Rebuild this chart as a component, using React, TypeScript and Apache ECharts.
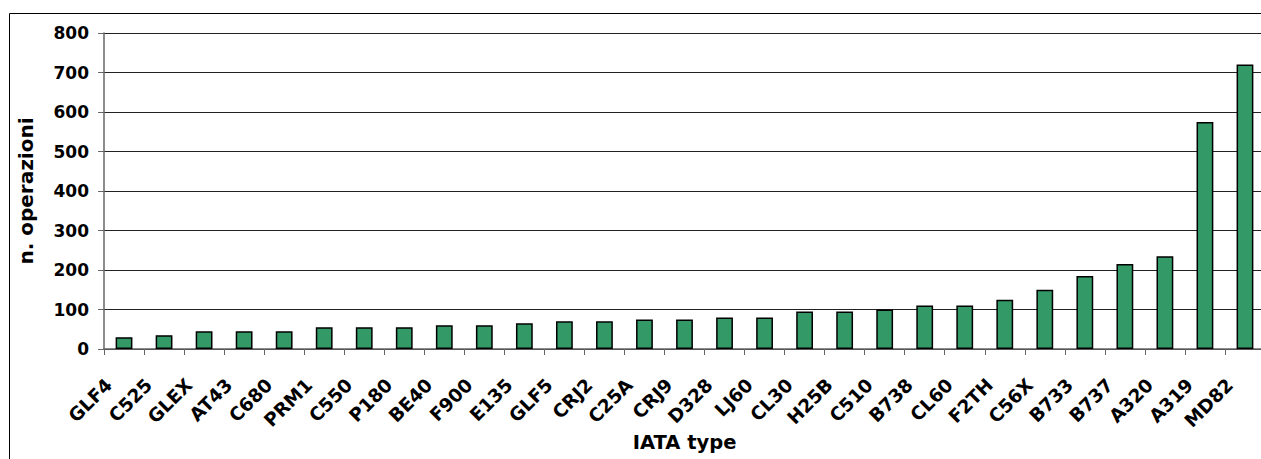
import React, { useEffect, useRef } from "react";
import * as echarts from "echarts";

const categories = ["GLF4","C525","GLEX","AT43","C680","PRM1","C550","P180","BE40","F900","E135","GLF5","CRJ2","C25A","CRJ9","D328","LJ60","CL30","H25B","C510","B738","CL60","F2TH","C56X","B733","B737","A320","A319","MD82"];
const operations = [30,35,45,45,45,55,55,55,60,60,65,70,70,75,75,80,80,95,95,100,110,110,125,150,185,215,235,575,720];
const yTicks = { min: 0, max: 800, interval: 100 };

export default function App() {
  const ref = useRef<HTMLDivElement>(null);
  useEffect(() => {
    if (!ref.current) return;
    const chart = echarts.init(ref.current, null, { renderer: "svg" });
    const font = "'DejaVu Sans', Arial, sans-serif";
    chart.setOption({
      animation: false,
      backgroundColor: "#ffffff",
      graphic: [
        {
          type: "rect",
          shape: { x: 9.5, y: 13.5, width: 1400, height: 600 },
          style: { fill: "none", stroke: "#000", lineWidth: 1 },
          silent: true,
        },
      ],
      grid: { left: 104, top: 33, bottom: 110, right: -4, containLabel: false, outerBoundsMode: "none" },
      xAxis: {
        type: "category",
        data: categories,
        name: "IATA type",
        nameLocation: "middle",
        nameGap: 83,
        nameMoveOverlap: false,
        nameTextStyle: { fontFamily: font, fontWeight: "bold", fontSize: 19.5, color: "#000" },
        axisLine: { lineStyle: { color: "#666", width: 1.5 } },
        axisTick: { show: true, length: 6, alignWithLabel: false, lineStyle: { color: "#666" } },
        axisLabel: {
          rotate: 45,
          margin: 31,
          interval: 0,
          verticalAlign: "bottom",
          padding: [0, 12, 0, 0],
          fontFamily: font,
          fontWeight: "bold",
          fontSize: 18.5,
          color: "#000",
        },
      },
      yAxis: {
        type: "value",
        min: yTicks.min,
        max: yTicks.max,
        interval: yTicks.interval,
        name: "n. operazioni",
        nameLocation: "middle",
        nameGap: 68,
        nameMoveOverlap: false,
        nameTextStyle: { fontFamily: font, fontWeight: "bold", fontSize: 20, color: "#000" },
        axisLine: { show: true, lineStyle: { color: "#666", width: 1.5 } },
        axisTick: { show: true, length: 6, lineStyle: { color: "#666" } },
        axisLabel: { margin: 15, fontFamily: font, fontWeight: "bold", fontSize: 17, color: "#000" },
        splitLine: { show: true, lineStyle: { color: "#222", width: 1 } },
      },
      series: [
        {
          type: "bar",
          data: operations,
          barWidth: "42%",
          itemStyle: { color: "#339966", borderColor: "#000", borderWidth: 1.5 },
        },
      ],
    });
    return () => chart.dispose();
  }, []);
  return (
    <div
      ref={ref}
      style={{ position: "fixed", left: 0, top: 0, width: 1261, height: 459 }}
    />
  );
}
